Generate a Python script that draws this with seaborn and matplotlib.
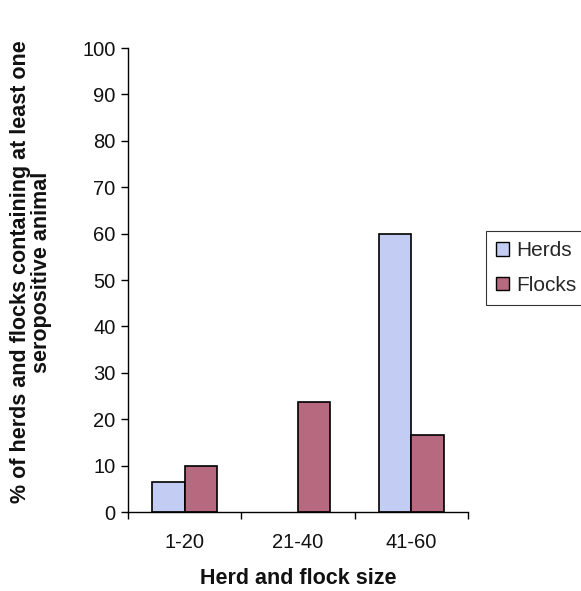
import matplotlib
matplotlib.use("Agg")
import matplotlib.pyplot as plt
import seaborn as sns
import pandas as pd
from matplotlib.ticker import FixedLocator
from matplotlib.patches import Patch

sizes = ["1-20", "21-40", "41-60"]
herds = [6.4, 0.0, 60.0]
flocks = [10.0, 23.6, 16.7]
series = ["Herds", "Flocks"]
colors = ["#c3cdf3", "#b7697f"]

df = pd.DataFrame({
    "size": sizes * 2,
    "pct": herds + flocks,
    "group": [series[0]] * 3 + [series[1]] * 3,
})

sns.set_theme(style="white")
plt.rcParams["font.family"] = ["Liberation Sans", "DejaVu Sans"]

fig = plt.figure(figsize=(5.81, 5.91), dpi=100)
ax = fig.add_axes([128 / 581, 1 - 512 / 591, 340 / 581, 464 / 591])

sns.barplot(data=df, x="size", y="pct", hue="group", palette=colors,
            edgecolor="black", linewidth=1.2, width=0.57, ax=ax,
            saturation=1, legend=False)

# hide empty bars so no outline is drawn along the baseline
for p in ax.patches:
    if p.get_height() == 0:
        p.set_visible(False)

ax.set_xlim(-0.5, 2.5)
ax.set_ylim(0, 100)
ax.set_yticks(range(0, 101, 10))
ax.tick_params(axis="y", direction="out", length=5, width=1, color="black",
               labelsize=14.5, pad=4, left=True, labelcolor="#111111")
ax.xaxis.set_minor_locator(FixedLocator([-0.5, 0.5, 1.5, 2.5]))
ax.tick_params(axis="x", which="major", length=0, labelsize=14.5, pad=15,
               labelcolor="#111111")
ax.tick_params(axis="x", which="minor", direction="out", length=5,
               width=1, color="black", bottom=True)
for s in ["top", "right"]:
    ax.spines[s].set_visible(False)
for s in ["left", "bottom"]:
    ax.spines[s].set_color("black")
    ax.spines[s].set_linewidth(1)

ax.set_xlabel("Herd and flock size", fontsize=15.5, fontweight="bold",
              color="#111111", va="center")
ax.xaxis.set_label_coords(0.5, (512 - 578) / 464)
ax.set_ylabel("% of herds and flocks containing at least one\nseropositive animal",
              fontsize=15.5, fontweight="bold", color="#111111",
              linespacing=1.0)
ax.yaxis.set_label_coords((52 - 128) / 340, 0.517)

handles = [Patch(facecolor=c, edgecolor="black", label=l) for c, l in zip(colors, series)]
leg = fig.legend(handles=handles, loc="upper left",
                 bbox_to_anchor=(486 / 581, 1 - 231 / 591),
                 fontsize=15, frameon=True, fancybox=False,
                 edgecolor="black", handlelength=0.6, handleheight=0.6,
                 handletextpad=0.35, labelspacing=0.75, borderpad=0.5,
                 borderaxespad=0)
leg.get_frame().set_linewidth(0.8)

fig.savefig("out.png", dpi=100)
